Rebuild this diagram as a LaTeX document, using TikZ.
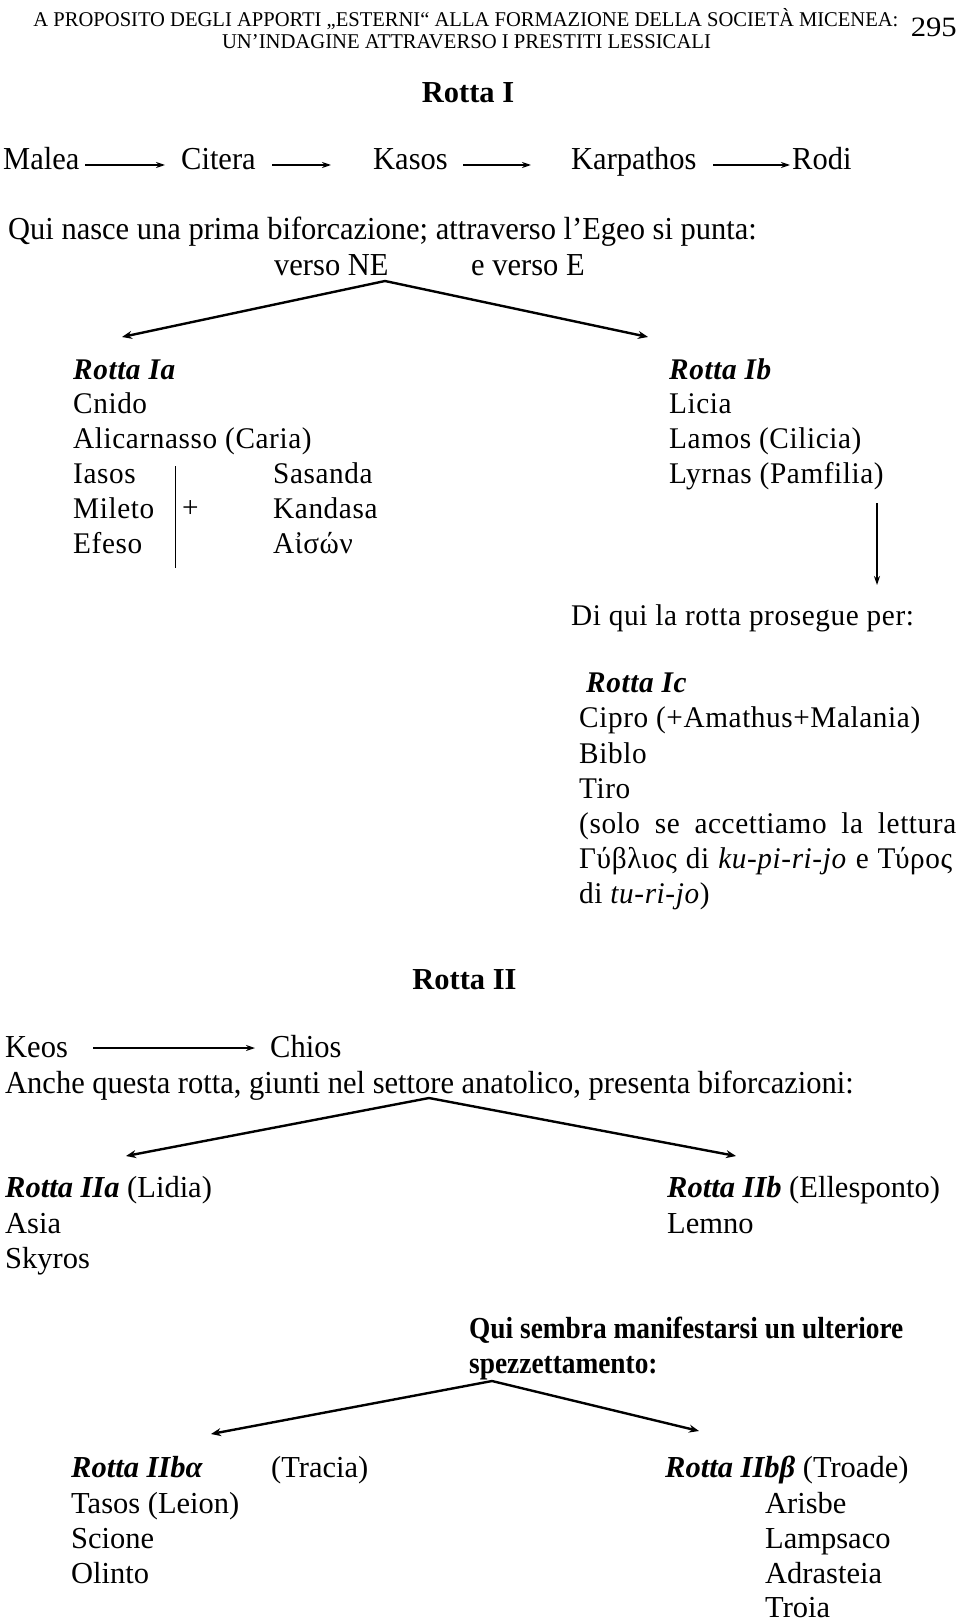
\documentclass[tikz,border=0pt]{standalone}
\usepackage{fontspec}
\usepackage{graphicx}
\setmainfont{Liberation Serif}
\usetikzlibrary{arrows.meta}
\tikzset{
  txt/.style={anchor=base west, inner sep=0pt, font=\fontsize{32}{38}\selectfont\addfontfeature{FakeStretch=0.953}},
  low/.style={anchor=base west, inner sep=0pt, font=\fontsize{30.5}{36}\selectfont},
  lst/.style={anchor=base west, inner sep=0pt, font=\fontsize{30}{36}\selectfont\addfontfeature{LetterSpace=2,FakeStretch=0.975}},
  hd/.style={anchor=base, inner sep=0pt, font=\fontsize{21}{24}\selectfont},
  ttl/.style={anchor=base, inner sep=0pt, font=\fontsize{30.5}{36}\selectfont\bfseries},
  harrow/.style={line width=1.4pt, -{Stealth[length=9pt,width=6pt]}},
  fork/.style={line width=2.4pt, -{Stealth[length=10pt,width=8pt]}},
  barline/.style={line width=1.8pt},
}
\newcommand{\ri}[1]{\textbf{\textit{#1}}}
\begin{document}
\begin{tikzpicture}[x=1pt,y=1pt]
\useasboundingbox (0,0) rectangle (960,-1621);
% header
\node[hd] (h1) at (466,-27) {\resizebox{865pt}{\height}{A PROPOSITO DEGLI APPORTI „ESTERNI“ ALLA FORMAZIONE DELLA SOCIETÀ MICENEA:}};
\node[hd] (h2) at (466.5,-48.5) {\resizebox{489pt}{\height}{UN’INDAGINE ATTRAVERSO I PRESTITI LESSICALI}};
\node[anchor=base east, inner sep=0pt, font=\fontsize{28}{30}\selectfont] (pg) at (957,-37) {\resizebox{46pt}{\height}{295}};
% Rotta I
\node[ttl] (r1) at (468,-103) {Rotta I};
\node[txt] (malea) at (3,-170) {Malea};
\node[txt] (citera) at (181,-170) {Citera};
\node[txt] (kasos) at (373,-170) {Kasos};
\node[txt] (karp) at (571,-170) {Karpathos};
\node[txt] (rodi) at (792,-170) {Rodi};
\coordinate (a1s) at (85,-165); \coordinate (a1e) at (165,-165);
\coordinate (a2s) at (272,-165); \coordinate (a2e) at (331,-165);
\coordinate (a3s) at (463,-165); \coordinate (a3e) at (531,-165);
\coordinate (a4s) at (713,-165); \coordinate (a4e) at (790,-165);
\draw[harrow] (a1s) -- (a1e);
\draw[harrow] (a2s) -- (a2e);
\draw[harrow] (a3s) -- (a3e);
\draw[harrow] (a4s) -- (a4e);
\node[txt] (qui) at (8,-240) {Qui nasce una prima biforcazione; attraverso l’Egeo si punta:};
\node[txt] (ne) at (274,-276) {verso NE};
\node[txt] (ve) at (471,-276) {e verso E};
\coordinate (f1) at (385,-281);
\coordinate (f1l) at (122,-337);
\coordinate (f1r) at (648,-337);
\draw[fork] (f1) -- (f1l);
\draw[fork] (f1) -- (f1r);
% Rotta Ia
\node[lst] (ia) at (73,-379) {\ri{Rotta Ia}};
\node[lst] (cnido) at (73,-413) {Cnido};
\node[lst] (alic) at (73,-448) {Alicarnasso (Caria)};
\node[lst] (iasos) at (73,-483) {Iasos};
\node[lst] (mileto) at (73,-518) {Mileto};
\node[lst] (efeso) at (73,-553) {Efeso};
\node[lst] (plus) at (182,-517) {+};
\node[lst] (sasanda) at (273,-483) {Sasanda};
\node[lst] (kandasa) at (273,-518) {Kandasa};
\node[lst] (aison) at (273,-553) {Αἰσών};
\coordinate (bart) at (175.5,-466);
\coordinate (barb) at (175.5,-568);
\draw[barline] (bart) -- (barb);
% Rotta Ib
\node[lst] (ib) at (669,-379) {\ri{Rotta Ib}};
\node[lst] (licia) at (669,-413) {Licia};
\node[lst] (lamos) at (669,-448) {Lamos (Cilicia)};
\node[lst] (lyrnas) at (669,-483) {Lyrnas (Pamfilia)};
\coordinate (dt) at (877,-503);
\coordinate (db) at (877,-585);
\draw[harrow] (dt) -- (db);
\node[lst] (diqui) at (571,-625) {Di qui la rotta prosegue per:};
% Rotta Ic
\node[lst] (ic) at (586,-692) {\ri{Rotta Ic}};
\node[lst] (cipro) at (579,-727) {Cipro (+Amathus+Malania)};
\node[lst] (biblo) at (579,-763) {Biblo};
\node[lst] (tiro) at (579,-798) {Tiro};
\node[lst] (solo) at (579,-833) {\makebox[377pt][s]{(solo se accettiamo la lettura}};
\node[lst] (gyb) at (579,-868) {\makebox[373pt][s]{Γύβλιος di \textit{ku-pi-ri-jo} e Τύρος}};
\node[lst] (turi) at (579,-903) {di \textit{tu-ri-jo})};
% Rotta II
\node[ttl] (r2) at (464.5,-989) {Rotta II};
\node[txt] (keos) at (5,-1057) {Keos};
\node[txt] (chios) at (270,-1057) {Chios};
\coordinate (k1) at (93,-1048); \coordinate (k2) at (255,-1048);
\draw[harrow] (k1) -- (k2);
\node[txt] (anche) at (5,-1093) {Anche questa rotta, giunti nel settore anatolico, presenta biforcazioni:};
\coordinate (f2) at (429,-1098);
\coordinate (f2l) at (126,-1156);
\coordinate (f2r) at (736,-1156);
\draw[fork] (f2) -- (f2l);
\draw[fork] (f2) -- (f2r);
\node[low] (iia) at (5,-1197) {\ri{Rotta IIa} (Lidia)};
\node[low] (asia) at (5,-1233) {Asia};
\node[low] (skyros) at (5,-1268) {Skyros};
\node[low] (iib) at (667,-1197) {\ri{Rotta IIb} (Ellesponto)};
\node[low] (lemno) at (667,-1233) {Lemno};
\node[low, font=\fontsize{30.5}{36}\selectfont\bfseries] (qs1) at (469,-1338) {\scalebox{0.897}[1]{Qui sembra manifestarsi un ulteriore}};
\node[low, font=\fontsize{30.5}{36}\selectfont\bfseries] (qs2) at (469,-1373) {\scalebox{0.897}[1]{spezzettamento:}};
\coordinate (f3) at (492,-1381);
\coordinate (f3l) at (211,-1434);
\coordinate (f3r) at (699,-1431);
\draw[fork] (f3) -- (f3l);
\draw[fork] (f3) -- (f3r);
\node[low] (iiba) at (71,-1477) {\ri{Rotta IIbα}};
\node[low] (tracia) at (271,-1477) {(Tracia)};
\node[low] (tasos) at (71,-1513) {Tasos (Leion)};
\node[low] (scione) at (71,-1548) {Scione};
\node[low] (olinto) at (71,-1583) {Olinto};
\node[low] (iibb) at (665,-1477) {\ri{Rotta IIbβ} (Troade)};
\node[low] (arisbe) at (765,-1513) {Arisbe};
\node[low] (lamps) at (765,-1548) {Lampsaco};
\node[low] (adra) at (765,-1583) {Adrasteia};
\node[low] (troia) at (765,-1617) {Troia};
\end{tikzpicture}
\end{document}
